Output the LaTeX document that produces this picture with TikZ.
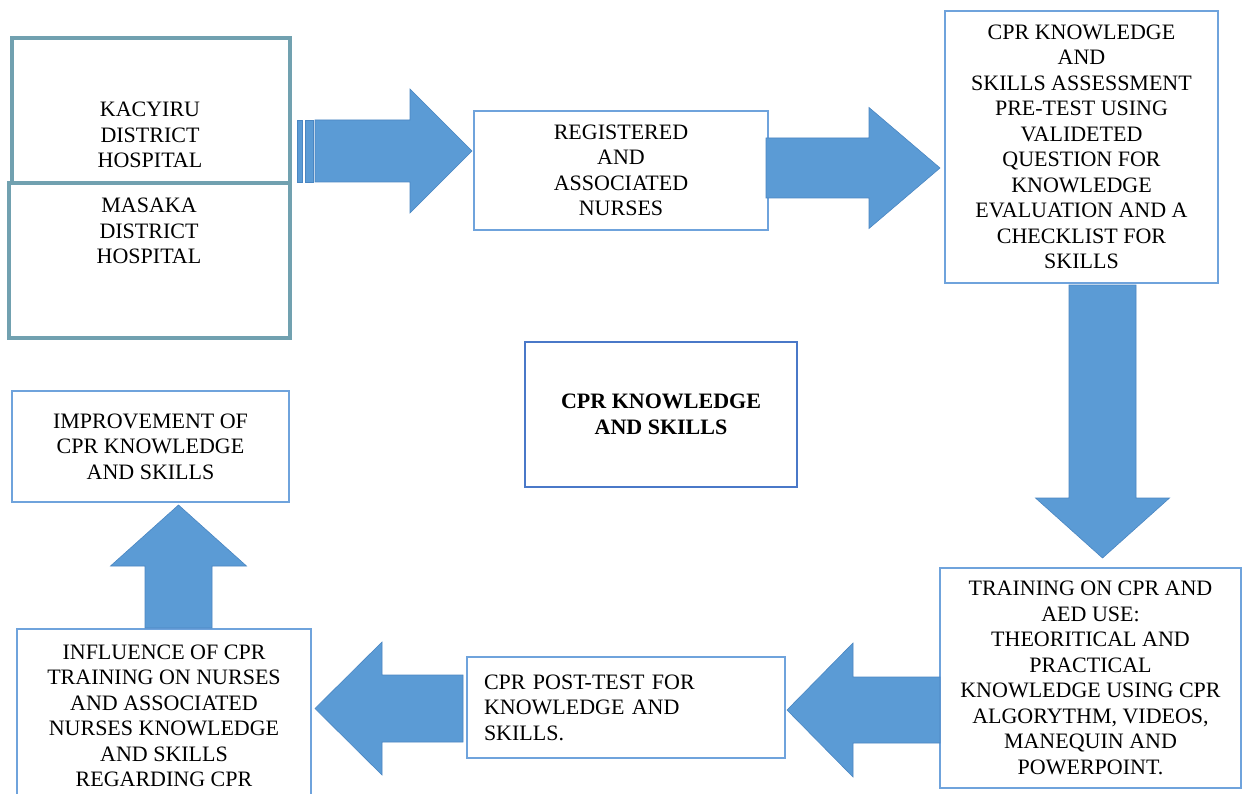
\documentclass[tikz,border=0pt]{standalone}
\usepackage{fontspec}
\setmainfont{Liberation Serif}
\usetikzlibrary{calc}
\definecolor{arrowblue}{HTML}{5B9BD5}
\definecolor{arrowedge}{HTML}{4A86C2}
\definecolor{boxblue}{HTML}{6FA3DC}
\definecolor{hospteal}{HTML}{71A1B0}
\definecolor{centreblue}{HTML}{4A78C8}
\tikzset{
  flowbox/.style={draw=boxblue, line width=1.3pt, rectangle, inner sep=0pt, outer sep=0pt,
    align=center, font=\fontsize{22}{25.5}\selectfont},
  hospbox/.style={draw=hospteal, line width=4pt, rectangle, inner sep=0pt, outer sep=0pt},
  hosptext/.style={align=center, inner sep=0pt, font=\fontsize{22}{25.5}\selectfont},
  blockarrow/.style={fill=arrowblue, draw=arrowedge, line width=0.6pt, line join=miter},
}
% tail, tip, half shaft, half head, tip -> head base
\newcommand{\flowarrow}[5]{%
  \draw[blockarrow] ($(#1)+(#3)$) -- ($(#2)+(#5)+(#3)$) -- ($(#2)+(#5)+(#4)$) -- (#2)
    -- ($(#2)+(#5)-(#4)$) -- ($(#2)+(#5)-(#3)$) -- ($(#1)-(#3)$) -- cycle;}
\begin{document}
\begin{tikzpicture}[x=1pt, y=-1pt]
  \useasboundingbox (0,0) rectangle (1244,794);
  \fill[white] (0,0) rectangle (1244,794);
  \clip (0,0) rectangle (1244,794);

  % hospitals
  \node[hospbox, minimum width=278, minimum height=145] (kacyiru) at (151,110.5) {};
  \node[hospbox, minimum width=281, minimum height=155] (masaka) at (149.5,260.5) {};
  \node[hosptext] (kactext) at (150,135) {KACYIRU\\DISTRICT\\HOSPITAL};
  \node[hosptext] (mastext) at (149,231) {MASAKA\\DISTRICT\\HOSPITAL};

  % boxes
  \node[flowbox, minimum width=294, minimum height=119] (reg) at (621,170.5)
    {REGISTERED\\AND\\ASSOCIATED\\NURSES};
  \node[flowbox, minimum width=273, minimum height=272] (pretest) at (1081.5,147)
    {CPR KNOWLEDGE\\AND\\SKILLS ASSESSMENT\\PRE-TEST USING\\VALIDETED\\QUESTION FOR\\KNOWLEDGE\\EVALUATION AND A\\CHECKLIST FOR\\SKILLS};
  \node[flowbox, minimum width=301, minimum height=220] (training) at (1090.5,678)
    {TRAINING ON CPR AND\\AED USE:\\THEORITICAL AND\\PRACTICAL\\KNOWLEDGE USING CPR\\ALGORYTHM, VIDEOS,\\MANEQUIN AND\\POWERPOINT.};
  \node[flowbox, minimum width=318, minimum height=101, text width=284, inner xsep=17pt, align=left] (posttest) at (626,707.5)
    {CPR POST-TEST FOR\\KNOWLEDGE AND\\SKILLS.};
  \node[flowbox, minimum width=294, minimum height=174] (influence) at (164,716)
    {INFLUENCE OF CPR\\TRAINING ON NURSES\\AND ASSOCIATED\\NURSES KNOWLEDGE\\AND SKILLS\\REGARDING CPR};
  \node[flowbox, minimum width=277, minimum height=111] (improve) at (150.5,446.5)
    {IMPROVEMENT OF\\CPR KNOWLEDGE\\AND SKILLS};
  \node[flowbox, draw=centreblue, minimum width=272, minimum height=145, font=\fontsize{22}{25.5}\selectfont\bfseries] (centre) at (661,414.5)
    {CPR KNOWLEDGE\\AND SKILLS};

  % arrows
  \coordinate (a1tail) at (315,151);      \coordinate (a1tip) at ($(reg.west)+(-2,-19.5)$);
  \coordinate (a2tail) at (766,168);      \coordinate (a2tip) at (940,168);
  \coordinate (a3tail) at (1102.5,285);   \coordinate (a3tip) at (1102.5,558);
  \coordinate (a4tail) at (training.west |- 0,710); \coordinate (a4tip) at (787,710);
  \coordinate (a5tail) at (463,708.5);    \coordinate (a5tip) at (315,708.5);
  \coordinate (a6tail) at (178.5,628);    \coordinate (a6tip) at (178.5,505);

  \foreach \a/\b in {-18/-13, -10/-2}
    \draw[blockarrow] ($(a1tail)+(\a,-31)$) rectangle ($(a1tail)+(\b,31)$);
  \flowarrow{a1tail}{a1tip}{0,31}{0,62}{-62,0}
  \flowarrow{a2tail}{a2tip}{0,30}{0,60.5}{-71,0}
  \flowarrow{a3tail}{a3tip}{33.5,0}{67,0}{0,-60}
  \flowarrow{a4tail}{a4tip}{0,33}{0,67}{66,0}
  \flowarrow{a5tail}{a5tip}{0,33.5}{0,66.5}{67,0}
  \flowarrow{a6tail}{a6tip}{33.5,0}{68,0}{0,61}
\end{tikzpicture}
\end{document}
